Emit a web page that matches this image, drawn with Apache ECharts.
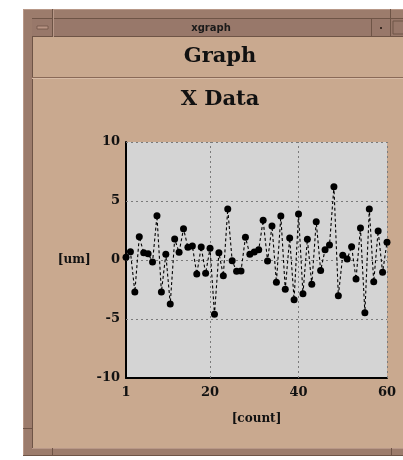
<!DOCTYPE html>
<html><head><meta charset="utf-8">
<script src="https://cdn.jsdelivr.net/npm/echarts@6/dist/echarts.min.js"></script>
<style>html,body{margin:0;padding:0;background:#fff;}#c{width:403px;height:460px;}</style>
</head><body><div id="c"></div>
<script>
const counts = [];
for (let i = 1; i <= 60; i++) counts.push(i);
const xValues = [0.23,0.70,-2.71,1.97,0.62,0.53,-0.17,3.75,-2.71,0.48,
  -3.73,1.78,0.65,2.65,1.08,1.19,-1.19,1.10,-1.13,0.99,
  -4.60,0.62,-1.33,4.32,-0.06,-0.96,-0.93,1.92,0.48,0.68,
  0.87,3.36,-0.08,2.88,-1.89,3.73,-2.48,1.86,-3.36,3.90,
  -2.86,1.75,-2.06,3.25,-0.89,0.87,1.27,6.21,-3.03,0.40,
  0.08,1.13,-1.61,2.71,-4.47,4.32,-1.84,2.46,-1.04,1.50];
const xTicks = [1, 20, 40, 60];
const xGridLines = [20, 40, 60];
const yGridLines = [-5, 0, 5, 10];
const windowTitle = 'xgraph';
const mainTitle = 'Graph';
const subTitle = 'X Data';
const xName = '[count]';
const yName = '[um]';

const serif = '"DejaVu Serif", "Liberation Serif", serif';
const frame = '#9c7c6c', frameDark = '#6e5446', frameLight = '#b89888', tan = '#c9a98f';

const chart = echarts.init(document.getElementById('c'), null, {renderer: 'canvas'});
const gridStyle = {color: '#7a7a7a', type: [2, 3], width: 1};
chart.setOption({
  animation: false,
  backgroundColor: '#ffffff',
  graphic: [
    {type: 'rect', shape: {x: 23, y: 9, width: 390, height: 447}, style: {fill: frame}, z: -10},
    {type: 'rect', shape: {x: 23, y: 9, width: 390, height: 1}, style: {fill: frameLight}, z: -9},
    {type: 'rect', shape: {x: 23, y: 9, width: 1, height: 447}, style: {fill: frameLight}, z: -9},
    {type: 'rect', shape: {x: 32, y: 18, width: 380, height: 19}, style: {fill: '#98786a'}, z: -9},
    {type: 'rect', shape: {x: 32, y: 18, width: 380, height: 1}, style: {fill: frameDark}, z: -8},
    {type: 'rect', shape: {x: 32, y: 36, width: 380, height: 1}, style: {fill: frameDark}, z: -8},
    {type: 'rect', shape: {x: 52, y: 9, width: 1, height: 28}, style: {fill: frameDark}, z: -8},
    {type: 'rect', shape: {x: 53, y: 9, width: 1, height: 28}, style: {fill: frameLight}, z: -8},
    {type: 'rect', shape: {x: 371, y: 18, width: 1, height: 19}, style: {fill: frameDark}, z: -8},
    {type: 'rect', shape: {x: 390, y: 9, width: 1, height: 28}, style: {fill: frameDark}, z: -8},
    {type: 'rect', shape: {x: 393, y: 21, width: 12, height: 13}, style: {fill: 'none', stroke: frameDark, lineWidth: 1}, z: -8},
    {type: 'rect', shape: {x: 380, y: 27, width: 2, height: 2}, style: {fill: '#3a2a22'}, z: -8},
    {type: 'rect', shape: {x: 37, y: 26, width: 11, height: 3}, style: {fill: '#b89484', stroke: frameDark, lineWidth: 0.8}, z: -8},
    {type: 'text', style: {x: 211, y: 28, text: windowTitle, fill: '#1a1a1a', font: 'bold 10px "DejaVu Sans", sans-serif', align: 'center', verticalAlign: 'middle'}, z: 5},
    {type: 'rect', shape: {x: 32, y: 37, width: 380, height: 411}, style: {fill: tan}, z: -9},
    {type: 'rect', shape: {x: 32, y: 37, width: 1, height: 411}, style: {fill: frameDark}, z: -8},
    {type: 'rect', shape: {x: 32, y: 77, width: 380, height: 1}, style: {fill: '#8a6a58'}, z: -8},
    {type: 'rect', shape: {x: 32, y: 78, width: 380, height: 1}, style: {fill: '#d8bca6'}, z: -8},
    {type: 'rect', shape: {x: 32, y: 448, width: 380, height: 1}, style: {fill: frameLight}, z: -8},
    {type: 'rect', shape: {x: 23, y: 455, width: 390, height: 1}, style: {fill: frameDark}, z: -8},
    {type: 'rect', shape: {x: 52, y: 448, width: 1, height: 8}, style: {fill: frameDark}, z: -8},
    {type: 'rect', shape: {x: 391, y: 448, width: 1, height: 8}, style: {fill: frameDark}, z: -8},
    {type: 'rect', shape: {x: 23, y: 428, width: 9, height: 1}, style: {fill: frameDark}, z: -8},
    {type: 'text', style: {x: 220, y: 57, text: mainTitle, fill: '#111', font: 'bold 21px ' + serif, align: 'center', verticalAlign: 'middle'}, z: 5},
    {type: 'text', style: {x: 220, y: 100, text: subTitle, fill: '#111', font: 'bold 21px ' + serif, align: 'center', verticalAlign: 'middle'}, z: 5}
  ],
  grid: {left: 126, top: 142, width: 261, height: 236, show: true, backgroundColor: '#d4d4d4', borderWidth: 0},
  xAxis: {
    type: 'value', min: 1, max: 60,
    name: xName, nameLocation: 'middle', nameGap: 35,
    nameTextStyle: {fontFamily: serif, fontWeight: 'bold', fontSize: 12, color: '#111'},
    axisLine: {show: true, onZero: false, lineStyle: {color: '#000', width: 2}},
    axisTick: {show: false},
    axisLabel: {customValues: xTicks, fontFamily: serif, fontWeight: 'bold', fontSize: 13, color: '#111', margin: 8, showMinLabel: true, showMaxLabel: true},
    splitLine: {show: false}
  },
  yAxis: {
    type: 'value', min: -10, max: 10, interval: 5,
    name: yName, nameLocation: 'middle', nameRotate: 0, nameGap: 34,
    nameTextStyle: {fontFamily: serif, fontWeight: 'bold', fontSize: 12, color: '#111'},
    axisLine: {show: true, lineStyle: {color: '#000', width: 2}},
    axisTick: {show: false},
    axisLabel: {fontFamily: serif, fontWeight: 'bold', fontSize: 13, color: '#111', margin: 6,
      formatter: v => (v < 0 ? '-' + Math.abs(v) : String(v))},
    splitLine: {show: false}
  },
  series: [{
    type: 'line',
    data: counts.map((c, i) => [c, xValues[i]]),
    symbol: 'circle', symbolSize: 7,
    itemStyle: {color: '#000'},
    lineStyle: {color: '#000', width: 1.1, type: [3, 2.5]},
    z: 3,
    markLine: {
      silent: true, symbol: 'none', label: {show: false},
      lineStyle: gridStyle,
      data: xGridLines.map(v => ({xAxis: v})).concat(yGridLines.map(v => ({yAxis: v}))),
      z: 1
    }
  }]
});
</script></body></html>
